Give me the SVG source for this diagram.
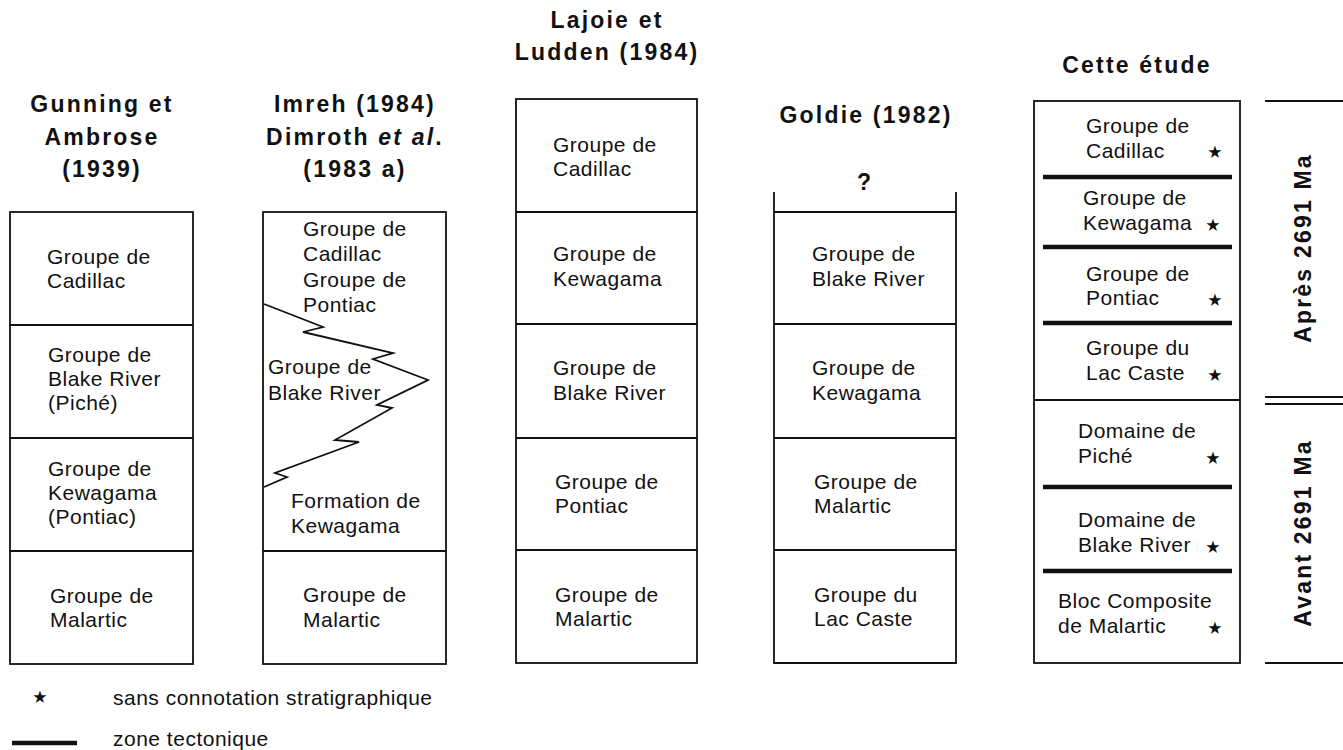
<svg xmlns="http://www.w3.org/2000/svg" width="1343" height="750" viewBox="0 0 1343 750">
<style>
.h{font-family:"Liberation Sans",Arial,sans-serif;font-weight:bold;font-size:23px;letter-spacing:2.2px;fill:#111}
.t{font-family:"Liberation Sans",Arial,sans-serif;font-size:21px;letter-spacing:0.5px;fill:#111}
.s{font-family:"DejaVu Sans",sans-serif;font-size:34px;fill:#111;text-anchor:middle}
.b{fill:none;stroke:#111;stroke-width:1.8}
.l{stroke:#111;stroke-width:1.8}
.z{stroke:#111;stroke-width:4.5}
</style>
<rect width="1343" height="750" fill="#fff"/>

<g id="col1">
<text class="h" text-anchor="middle" x="102" y="112">Gunning et</text>
<text class="h" text-anchor="middle" x="102" y="145">Ambrose</text>
<text class="h" text-anchor="middle" x="102" y="177">(1939)</text>
<rect class="b" x="10" y="212" width="183" height="452"/>
<line class="l" x1="10" y1="325" x2="193" y2="325"/>
<line class="l" x1="10" y1="438" x2="193" y2="438"/>
<line class="l" x1="10" y1="551" x2="193" y2="551"/>
<text class="t" x="47" y="264">Groupe de</text>
<text class="t" x="47" y="288">Cadillac</text>
<text class="t" x="48" y="362">Groupe de</text>
<text class="t" x="48" y="386">Blake River</text>
<text class="t" x="48" y="410">(Piché)</text>
<text class="t" x="48" y="476">Groupe de</text>
<text class="t" x="48" y="500">Kewagama</text>
<text class="t" x="48" y="524">(Pontiac)</text>
<text class="t" x="50" y="603">Groupe de</text>
<text class="t" x="50" y="627">Malartic</text>
</g>

<g id="col2">
<text class="h" text-anchor="middle" x="355" y="112">Imreh (1984)</text>
<text class="h" text-anchor="middle" x="355" y="145">Dimroth <tspan font-style="italic">et al</tspan>.</text>
<text class="h" text-anchor="middle" x="355" y="177">(1983 a)</text>
<rect class="b" x="263" y="212" width="183" height="452"/>
<line class="l" x1="263" y1="551" x2="446" y2="551"/>
<polyline class="b" stroke-width="1.5" points="264,304 323,327 303,332 393,353 373,359 428,380 377,405 392,408 335,440 359,442 275,473 287,477 264,487"/>
<text class="t" x="303" y="236">Groupe de</text>
<text class="t" x="303" y="261">Cadillac</text>
<text class="t" x="303" y="287">Groupe de</text>
<text class="t" x="303" y="312">Pontiac</text>
<text class="t" x="268" y="374">Groupe de</text>
<text class="t" x="268" y="400">Blake River</text>
<text class="t" x="291" y="508">Formation de</text>
<text class="t" x="291" y="533">Kewagama</text>
<text class="t" x="303" y="602">Groupe de</text>
<text class="t" x="303" y="627">Malartic</text>
</g>

<g id="col3">
<text class="h" text-anchor="middle" x="607" y="28">Lajoie et</text>
<text class="h" text-anchor="middle" x="607" y="60">Ludden (1984)</text>
<rect class="b" x="516" y="99" width="181" height="564"/>
<line class="l" x1="516" y1="212" x2="697" y2="212"/>
<line class="l" x1="516" y1="324" x2="697" y2="324"/>
<line class="l" x1="516" y1="438" x2="697" y2="438"/>
<line class="l" x1="516" y1="550" x2="697" y2="550"/>
<text class="t" x="553" y="152">Groupe de</text>
<text class="t" x="553" y="176">Cadillac</text>
<text class="t" x="553" y="261">Groupe de</text>
<text class="t" x="553" y="286">Kewagama</text>
<text class="t" x="553" y="375">Groupe de</text>
<text class="t" x="553" y="400">Blake River</text>
<text class="t" x="555" y="489">Groupe de</text>
<text class="t" x="555" y="513">Pontiac</text>
<text class="t" x="555" y="602">Groupe de</text>
<text class="t" x="555" y="626">Malartic</text>
</g>

<g id="col4">
<text class="h" text-anchor="middle" x="866" y="123">Goldie (1982)</text>
<text class="h" text-anchor="middle" x="865" y="190">?</text>
<polyline class="b" points="774,192 774,663 956,663 956,192"/>
<line class="l" x1="774" y1="212" x2="956" y2="212"/>
<line class="l" x1="774" y1="324" x2="956" y2="324"/>
<line class="l" x1="774" y1="438" x2="956" y2="438"/>
<line class="l" x1="774" y1="550" x2="956" y2="550"/>
<text class="t" x="812" y="261">Groupe de</text>
<text class="t" x="812" y="286">Blake River</text>
<text class="t" x="812" y="375">Groupe de</text>
<text class="t" x="812" y="400">Kewagama</text>
<text class="t" x="814" y="489">Groupe de</text>
<text class="t" x="814" y="513">Malartic</text>
<text class="t" x="814" y="602">Groupe du</text>
<text class="t" x="814" y="626">Lac Caste</text>
</g>

<g id="col5">
<text class="h" text-anchor="middle" x="1137" y="73">Cette étude</text>
<rect class="b" x="1034" y="101" width="206" height="562"/>
<line class="l" x1="1034" y1="400" x2="1240" y2="400"/>
<line class="z" x1="1043" y1="177" x2="1232" y2="177"/>
<line class="z" x1="1043" y1="247" x2="1232" y2="247"/>
<line class="z" x1="1043" y1="323" x2="1232" y2="323"/>
<line class="z" x1="1043" y1="487" x2="1232" y2="487"/>
<line class="z" x1="1043" y1="571" x2="1232" y2="571"/>
<text class="t" x="1086" y="133">Groupe de</text>
<text class="t" x="1086" y="158">Cadillac</text>
<text class="s" x="1215" y="163">⋆</text>
<text class="t" x="1083" y="205">Groupe de</text>
<text class="t" x="1083" y="230">Kewagama</text>
<text class="s" x="1213" y="236">⋆</text>
<text class="t" x="1086" y="281">Groupe de</text>
<text class="t" x="1086" y="305">Pontiac</text>
<text class="s" x="1215" y="311">⋆</text>
<text class="t" x="1086" y="355">Groupe du</text>
<text class="t" x="1086" y="380">Lac Caste</text>
<text class="s" x="1215" y="386">⋆</text>
<text class="t" x="1078" y="438">Domaine de</text>
<text class="t" x="1078" y="463">Piché</text>
<text class="s" x="1213" y="469">⋆</text>
<text class="t" x="1078" y="527">Domaine de</text>
<text class="t" x="1078" y="552">Blake River</text>
<text class="s" x="1213" y="558">⋆</text>
<text class="t" x="1058" y="608">Bloc Composite</text>
<text class="t" x="1058" y="633">de Malartic</text>
<text class="s" x="1215" y="639">⋆</text>
</g>

<g id="ages">
<line class="l" x1="1265" y1="101" x2="1343" y2="101"/>
<line class="l" x1="1265" y1="397" x2="1343" y2="397"/>
<line class="l" x1="1265" y1="404" x2="1343" y2="404"/>
<line class="l" x1="1265" y1="663" x2="1343" y2="663"/>
<text class="h" text-anchor="middle" transform="translate(1311,248) rotate(-90)">Après 2691 Ma</text>
<text class="h" text-anchor="middle" transform="translate(1311,533) rotate(-90)">Avant 2691 Ma</text>
</g>

<g id="legend">
<text class="s" x="40" y="708">⋆</text>
<text class="t" x="113" y="705">sans connotation stratigraphique</text>
<line class="z" x1="12" y1="743" x2="77" y2="743"/>
<text class="t" x="113" y="746">zone tectonique</text>
</g>
</svg>
